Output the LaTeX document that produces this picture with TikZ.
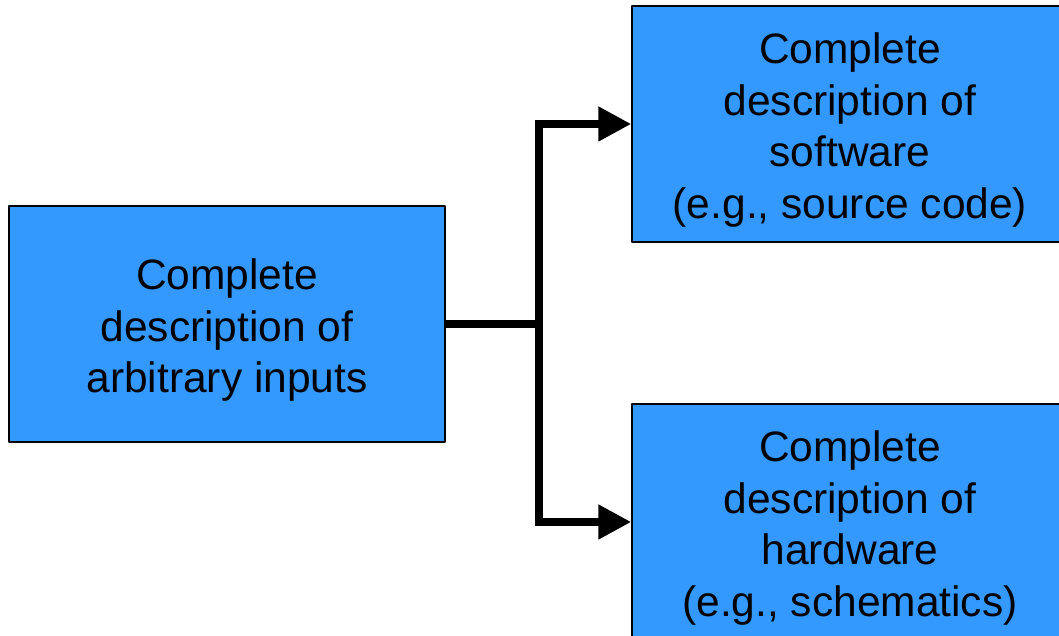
\documentclass[tikz,border=0pt]{standalone}
\usepackage{fontspec}
\setmainfont{Liberation Sans}
\usepackage{tikz}
\usetikzlibrary{positioning,arrows.meta}
\definecolor{boxblue}{RGB}{51,153,255}
\newcommand{\blocktop}{\rule{0pt}{43bp}}
\tikzset{
  block/.style={draw=black,line width=1.5bp,fill=boxblue,minimum width=436bp,minimum height=236bp,
    align=center,inner sep=0pt,font=\fontsize{42.5bp}{51.5bp}\selectfont},
  link/.style={black,line width=8bp,line join=miter},
}
\begin{document}
\begin{tikzpicture}[>={Triangle[length=33bp,width=33bp]},line join=bevel,]
%%
\useasboundingbox (0bp,0bp) rectangle (1059bp,636bp);
\clip (0bp,0bp) rectangle (1059bp,636bp);
\node (inputs) at (227bp,312bp) [block] {\blocktop Complete\\description of\\arbitrary inputs};
  \node (software) at (850bp,512bp) [block] {\blocktop Complete\\description of\\software\\(e.g., source code)};
  \node (hardware) at (850bp,114bp) [block] {\blocktop Complete\\description of\\hardware\\(e.g., schematics)};
  \coordinate (fork) at (539bp,312bp);
  \draw [link,->] (inputs.east) -- (fork) |- (software.west);
  \draw [link,->] (inputs.east) -- (fork) |- (hardware.west);
%
\end{tikzpicture}
\end{document}
